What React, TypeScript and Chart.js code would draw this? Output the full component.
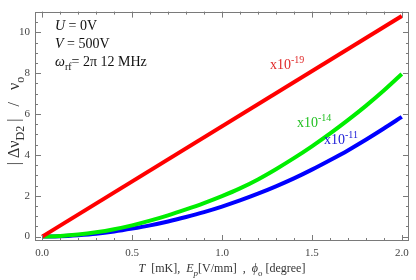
import React, { useEffect, useRef } from "react";
import { Chart, registerables } from "chart.js";
Chart.register(...registerables);

// ---- data ----
const redT = [0, 2.0];
const redV = [0, 10.8];
const curveT = [0, 0.1, 0.2, 0.3, 0.4, 0.5, 0.6, 0.7, 0.8, 0.9, 1.0, 1.1, 1.2, 1.3, 1.4, 1.5, 1.6, 1.7, 1.8, 1.9, 2.0];
const greenV = [0, 0.03, 0.1, 0.21, 0.36, 0.55, 0.78, 1.04, 1.33, 1.64, 1.98, 2.36, 2.8, 3.3, 3.84, 4.42, 5.04, 5.7, 6.4, 7.15, 7.96];
const blueV = [0, 0.02, 0.07, 0.14, 0.25, 0.39, 0.55, 0.74, 0.96, 1.2, 1.47, 1.77, 2.1, 2.46, 2.85, 3.28, 3.74, 4.22, 4.74, 5.29, 5.86];
const xTicks = [0, 0.5, 1.0, 1.5, 2.0];
const yTicks = [0, 2, 4, 6, 8, 10];
const seriesLabels = ["x10-19", "x10-14", "x10-11"];

const SERIF = "'Liberation Serif', 'Times New Roman', serif";

type Seg = { t: string; it?: boolean; sub?: boolean; sup?: boolean };

function drawRich(ctx: CanvasRenderingContext2D, x: number, y: number, segs: Seg[], size: number, color: string, measureOnly = false): number {
  let cx = x;
  for (const s of segs) {
    const fs = s.sub || s.sup ? Math.round(size * 0.72) : size;
    ctx.font = `${s.it ? "italic " : ""}${fs}px ${SERIF}`;
    const dy = s.sub ? size * 0.3 : s.sup ? -size * 0.4 : 0;
    if (!measureOnly) {
      ctx.fillStyle = color;
      ctx.fillText(s.t, cx, y + dy);
    }
    cx += ctx.measureText(s.t).width;
  }
  return cx - x;
}

const framePlugin = {
  id: "frame",
  afterDraw(chart: any) {
    const ctx: CanvasRenderingContext2D = chart.ctx;
    const { left, right, top, bottom } = chart.chartArea;
    const xs = chart.scales.x;
    const ys = chart.scales.y;
    ctx.save();
    ctx.strokeStyle = "#7a7a7a";
    ctx.lineWidth = 1;
    ctx.strokeRect(Math.round(left) + 0.5, Math.round(top) + 0.5, Math.round(right - left) - 1, Math.round(bottom - top) - 1);
    ctx.beginPath();
    // x ticks (major 0.5, minor 0.1)
    for (let i = 0; i <= 20; i++) {
      const v = i / 10;
      const px = Math.round(xs.getPixelForValue(v)) + 0.5;
      const len = i % 5 === 0 ? 6 : 3;
      ctx.moveTo(px, bottom);
      ctx.lineTo(px, bottom - len);
      ctx.moveTo(px, top);
      ctx.lineTo(px, top + len);
    }
    // y ticks (major 2, minor 0.5)
    for (let i = 0; i <= 22; i++) {
      const v = i / 2;
      const py = Math.round(ys.getPixelForValue(v)) + 0.5;
      if (py < top || py > bottom) continue;
      const len = i % 4 === 0 ? 6 : 3;
      ctx.moveTo(left, py);
      ctx.lineTo(left + len, py);
      ctx.moveTo(right, py);
      ctx.lineTo(right - len, py);
    }
    ctx.stroke();

    ctx.textBaseline = "alphabetic";
    ctx.textAlign = "left";
    // parameter text
    drawRich(ctx, 55, 30, [{ t: "U", it: true }, { t: " = 0V" }], 14, "#111");
    drawRich(ctx, 55, 48, [{ t: "V", it: true }, { t: " = 500V" }], 14, "#111");
    drawRich(ctx, 55, 66, [{ t: "ω", it: true }, { t: "rf", sub: true }, { t: "= 2π 12 MHz" }], 14, "#111");

    // series labels
    const lab = (s: string): Seg[] => [{ t: s.slice(0, 3) }, { t: s.slice(3), sup: true }];
    drawRich(ctx, 270, 69, lab(seriesLabels[0]), 14, "#e02a2a");
    drawRich(ctx, 297, 127, lab(seriesLabels[1]), 14, "#22c022");
    drawRich(ctx, 324, 144, lab(seriesLabels[2]), 14, "#2020d8");

    // x axis title
    const xt: Seg[] = [
      { t: "T", it: true }, { t: "  [mK],  " }, { t: "E", it: true }, { t: "p", it: true, sub: true },
      { t: "[V/mm]  ,  " }, { t: "ϕ", it: true }, { t: "o", sub: true }, { t: " [degree]" },
    ];
    const xw = drawRich(ctx, 0, 0, xt, 12, "#333", true);
    drawRich(ctx, (left + right) / 2 - xw / 2, 272, xt, 12, "#333");

    // y axis title
    const yt: Seg[] = [
      { t: "| " }, { t: "Δν" }, { t: "D2", sub: true }, { t: " |   /   ν" }, { t: "o", sub: true },
    ];
    const yw = drawRich(ctx, 0, 0, yt, 16, "#333", true);
    ctx.translate(19, 121);
    ctx.rotate(-Math.PI / 2);
    drawRich(ctx, -yw / 2, 0, yt, 16, "#333");
    ctx.restore();
  },
};

export default function App() {
  const ref = useRef<HTMLCanvasElement | null>(null);
  useEffect(() => {
    if (!ref.current) return;
    const chart = new Chart(ref.current, {
      type: "line",
      data: {
        datasets: [
          { data: redT.map((t, i) => ({ x: t, y: redV[i] })), borderColor: "#ff0000", borderWidth: 4, pointRadius: 0, tension: 0 },
          { data: curveT.map((t, i) => ({ x: t, y: greenV[i] })), borderColor: "#00ee00", borderWidth: 4, pointRadius: 0, tension: 0.4, cubicInterpolationMode: "monotone" },
          { data: curveT.map((t, i) => ({ x: t, y: blueV[i] })), borderColor: "#0000ff", borderWidth: 4, pointRadius: 0, tension: 0.4, cubicInterpolationMode: "monotone" },
        ],
      } as any,
      options: {
        animation: false,
        responsive: false,
        layout: { padding: { left: 0, right: 7, top: 3, bottom: 0 } },
        plugins: { legend: { display: false }, tooltip: { enabled: false } },
        scales: {
          x: {
            type: "linear",
            min: -0.04,
            max: 2.04,
            afterBuildTicks: (s: any) => { s.ticks = xTicks.map((v) => ({ value: v })); },
            afterFit: (s: any) => { s.height = 39; },
            grid: { display: false, drawTicks: false },
            border: { display: false },
            ticks: { padding: 6, color: "#444", font: { family: SERIF, size: 11 }, callback: (v: any) => Number(v).toFixed(1), maxRotation: 0, autoSkip: false },
          },
          y: {
            type: "linear",
            min: -0.216,
            max: 11.016,
            afterBuildTicks: (s: any) => { s.ticks = yTicks.map((v) => ({ value: v })); },
            afterFit: (s: any) => { s.width = 35; },
            grid: { display: false, drawTicks: false },
            border: { display: false },
            ticks: { padding: 5, color: "#444", font: { family: SERIF, size: 11 }, callback: (v: any) => String(v), autoSkip: false },
          },
        },
      } as any,
      plugins: [framePlugin],
    });
    return () => chart.destroy();
  }, []);
  return (
    <div style={{ position: "absolute", left: 0, top: 0, width: 416, height: 280, background: "#fff" }}>
      <canvas ref={ref} width={416} height={280} style={{ display: "block" }} />
    </div>
  );
}
